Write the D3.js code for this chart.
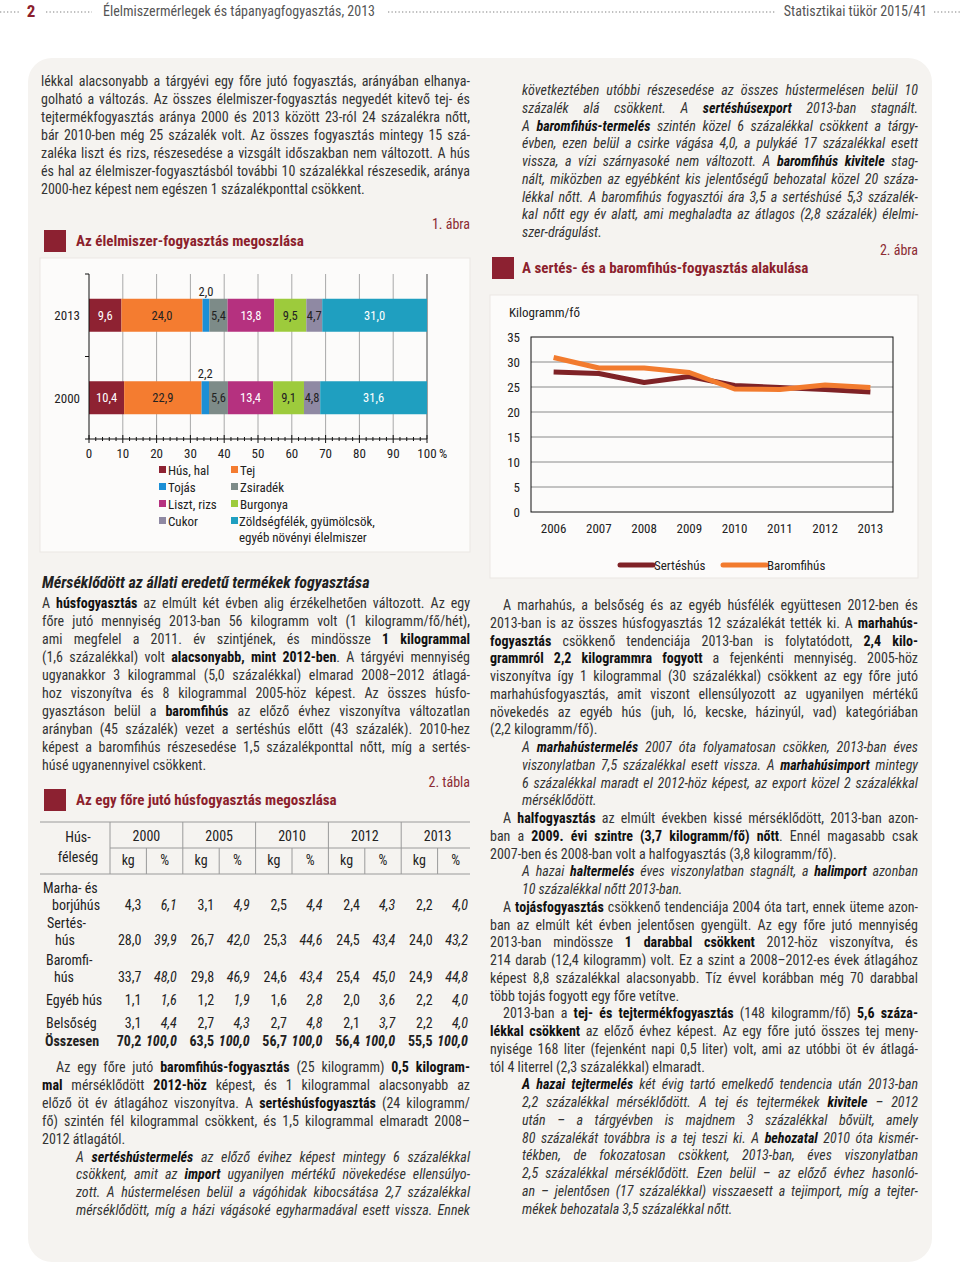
<!DOCTYPE html>
<html><head><meta charset="utf-8">
<script src="https://cdn.jsdelivr.net/npm/d3@7"></script>
<style>html,body{margin:0;padding:0;background:#fff;} svg{display:block}</style>
</head><body><svg id="page" width="960" height="1286"></svg>
<script>
// ---------- DATA ----------
const foodCategories = ["Hús, hal","Tej","Tojás","Zsiradék","Liszt, rizs","Burgonya","Cukor","Zöldségfélék, gyümölcsök, egyéb növényi élelmiszer"];
const foodYears = ["2013","2000"];
const share2013 = [9.6,24.0,2.0,5.4,13.8,9.5,4.7,31.0];
const share2000 = [10.4,22.9,2.2,5.6,13.4,9.1,4.8,31.6];
const shareTicks = [0,10,20,30,40,50,60,70,80,90,100];

const meatYears = ["2006","2007","2008","2009","2010","2011","2012","2013"];
const meatSeries = ["Sertéshús","Baromfihús"];
const porkKg = [28.0,27.7,25.9,27.1,25.3,24.9,24.5,24.0];
const poultryKg = [30.9,28.8,28.8,27.9,24.6,24.5,25.4,24.9];
const meatTicks = [0,5,10,15,20,25,30,35];

const tableYears = ["2000","2005","2010","2012","2013"];
const tableUnits = ["kg","%"];
const tableRowLabels = [["Marha- és","borjúhús"],["Sertés-","hús"],["Baromfi-","hús"],["Egyéb hús"],["Belsőség"],["Összesen"]];
const tableKg = [
  [4.3,3.1,2.5,2.4,2.2],
  [28.0,26.7,25.3,24.5,24.0],
  [33.7,29.8,24.6,25.4,24.9],
  [1.1,1.2,1.6,2.0,2.2],
  [3.1,2.7,2.7,2.1,2.2],
  [70.2,63.5,56.7,56.4,55.5]];
const tablePct = [
  [6.1,4.9,4.4,4.3,4.0],
  [39.9,42.0,44.6,43.4,43.2],
  [48.0,46.9,43.4,45.0,44.8],
  [1.6,1.9,2.8,3.6,4.0],
  [4.4,4.3,4.8,3.7,4.0],
  [100.0,100.0,100.0,100.0,100.0]];

// ---------- STYLE ----------
const F = "'Liberation Sans Narrow','Arial Narrow','Roboto Condensed','Liberation Sans',sans-serif";
const RED = "#8c1f2d";
const TXT = "#333";
const foodColors = ["#8e2232","#f47c30","#1b8fd6","#7d8b88","#b5317f","#9dcb3c","#8f89a3","#1f9fc0"];
const foodLabelColors = ["#fff","#222","#222","#222","#fff","#222","#222","#fff"];
const meatColors = ["#7f2226","#f27b2e"];
const fmt = v => d3.format(".1f")(v).replace(".", ",");

const svg = d3.select("#page");

// panel
svg.append("rect").attr("x",28).attr("y",58).attr("width",904).attr("height",1204).attr("rx",24).attr("fill","#f5f3f0");

// ---------- HEADER ----------
const hdr = svg.append("g").attr("font-family",F);
function dots(x1,x2,y){ hdr.append("line").attr("x1",x1).attr("x2",x2).attr("y1",y).attr("y2",y).attr("stroke","#aaa").attr("stroke-width",1.3).attr("stroke-dasharray","1.3,2.2"); }
dots(0,20,12); dots(46,92,12); dots(388,776,12); dots(934,960,12);
hdr.append("text").attr("x",31).attr("y",17).attr("text-anchor","middle").attr("font-size",17).attr("font-weight","bold").attr("fill",RED).text("2");
hdr.append("text").attr("x",103).attr("y",16).attr("font-size",14).attr("fill","#555").text("Élelmiszermérlegek és tápanyagfogyasztás, 2013");
hdr.append("text").attr("x",927).attr("y",16).attr("text-anchor","end").attr("font-size",14).attr("fill","#555").text("Statisztikai tükör 2015/41");

// ---------- TEXT HELPERS ----------
function drawLine(g, str, x, x1, y, italic, justify){
  const t = g.append("text").attr("x",x).attr("y",y).attr("font-family",F).attr("font-size",14)
    .attr("fill",TXT).attr("font-style", italic?"italic":"normal");
  str.split("**").forEach((s,k)=>{ if(!s) return; const ts=t.append("tspan").text(s); if(k%2===1) ts.attr("font-weight","bold").attr("fill","#111"); });
  if(justify){
    const nat = t.node().getComputedTextLength();
    const spaces = (str.replace(/\*\*/g,"").trim().match(/ +/g)||[]).length;
    if(spaces>0){
      t.style("word-spacing", ((x1-x-nat)/spaces)+"px");
      const after = t.node().getComputedTextLength();
      if(Math.abs(after-(x1-x))>2){ t.style("word-spacing",null).attr("textLength",x1-x).attr("lengthAdjust","spacing"); }
    }
  }
}
function renderBlock(spec){
  const g = svg.append("g");
  let y = spec.y;
  spec.paras.forEach(p=>{
    const xs = p.it ? spec.xi : spec.x0;
    p.lines.forEach((ln,i)=>{
      const isLast = (i===p.lines.length-1) && !p.open;
      const ind = (i===0 && p.indent) ? spec.ind : 0;
      drawLine(g, ln, xs+ind, spec.x1, y+5, p.it, !isLast);
      y += spec.dy;
    });
  });
}
function heading(x,y,text,sqx,sqy){
  svg.append("rect").attr("x",sqx).attr("y",sqy).attr("width",22).attr("height",22).attr("fill","#8c2131");
  svg.append("text").attr("x",x).attr("y",y+5).attr("font-family",F).attr("font-size",15).attr("font-weight","bold").attr("fill",RED).text(text);
}
function figNo(x,y,text){
  svg.append("text").attr("x",x).attr("y",y+5).attr("text-anchor","end").attr("font-family",F).attr("font-size",14).attr("fill","#8c2b33").text(text);
}

// ---------- LEFT COLUMN TEXT ----------
renderBlock({x0:41,xi:76,x1:470,y:81,dy:18,ind:14,paras:[{it:false,lines:[
 "lékkal alacsonyabb a tárgyévi egy főre jutó fogyasztás, arányában elhanya-",
 "golható a változás. Az összes élelmiszer-fogyasztás negyedét kitevő tej- és",
 "tejtermékfogyasztás aránya 2000 és 2013 között 23-ról 24 százalékra nőtt,",
 "bár 2010-ben még 25 százalék volt. Az összes fogyasztás mintegy 15 szá-",
 "zaléka liszt és rizs, részesedése a vizsgált időszakban nem változott. A hús",
 "és hal az élelmiszer-fogyasztásból további 10 százalékkal részesedik, aránya",
 "2000-hez képest nem egészen 1 százalékponttal csökkent."]}]});
figNo(470,224,"1. ábra");
heading(76,241,"Az élelmiszer-fogyasztás megoszlása",44,230);

svg.append("text").attr("x",42).attr("y",588).attr("font-family",F).attr("font-size",16).attr("font-weight","bold").attr("font-style","italic").attr("fill","#222").text("Mérséklődött az állati eredetű termékek fogyasztása");
renderBlock({x0:42,xi:76,x1:470,y:603,dy:17.95,ind:14,paras:[{it:false,lines:[
 "A **húsfogyasztás** az elmúlt két évben alig érzékelhetően változott. Az egy",
 "főre jutó mennyiség 2013-ban 56 kilogramm volt (1 kilogramm/fő/hét),",
 "ami megfelel a 2011. év szintjének, és mindössze **1 kilogrammal**",
 "(1,6 százalékkal) volt **alacsonyabb, mint 2012-ben**. A tárgyévi mennyiség",
 "ugyanakkor 3 kilogrammal (5,0 százalékkal) elmarad 2008–2012 átlagá-",
 "hoz viszonyítva és 8 kilogrammal 2005-höz képest. Az összes húsfo-",
 "gyasztáson belül a **baromfihús** az előző évhez viszonyítva változatlan",
 "arányban (45 százalék) vezet a sertéshús előtt (43 százalék). 2010-hez",
 "képest a baromfihús részesedése 1,5 százalékponttal nőtt, míg a sertés-",
 "húsé ugyanennyivel csökkent."]}]});
figNo(470,782,"2. tábla");
heading(76,800,"Az egy főre jutó húsfogyasztás megoszlása",44,789);

renderBlock({x0:42,xi:76,x1:470,y:1067,dy:17.9,ind:14,paras:[
 {it:false,indent:true,lines:[
 "Az egy főre jutó **baromfihús-fogyasztás** (25 kilogramm) **0,5 kilogram-**",
 "**mal** mérséklődött **2012-höz** képest, és 1 kilogrammal alacsonyabb az",
 "előző öt év átlagához viszonyítva. A **sertéshúsfogyasztás** (24 kilogramm/",
 "fő) szintén fél kilogrammal csökkent, és 1,5 kilogrammal elmaradt 2008–",
 "2012 átlagától."]},
 {it:true,open:true,lines:[
 "A **sertéshústermelés** az előző évihez képest mintegy 6 százalékkal",
 "csökkent, amit az **import** ugyanilyen mértékű növekedése ellensúlyo-",
 "zott. A hústermelésen belül a vágóhidak kibocsátása 2,7 százalékkal",
 "mérséklődött, míg a házi vágásoké egyharmadával esett vissza. Ennek"]}]});

// ---------- RIGHT COLUMN TEXT ----------
renderBlock({x0:490,xi:522,x1:918,y:90,dy:17.75,ind:13,paras:[{it:true,lines:[
 "következtében utóbbi részesedése az összes hústermelésen belül 10",
 "százalék alá csökkent. A **sertéshúsexport** 2013-ban stagnált.",
 "A **baromfihús-termelés** szintén közel 6 százalékkal csökkent a tárgy-",
 "évben, ezen belül a csirke vágása 4,0, a pulykáé 17 százalékkal esett",
 "vissza, a vízi szárnyasoké nem változott. A **baromfihús kivitele** stag-",
 "nált, miközben az egyébként kis jelentőségű behozatal közel 20 száza-",
 "lékkal nőtt. A baromfihús fogyasztói ára 3,5 a sertéshúsé 5,3 százalék-",
 "kal nőtt egy év alatt, ami meghaladta az átlagos (2,8 százalék) élelmi-",
 "szer-drágulást."]}]});
figNo(918,250,"2. ábra");
heading(522,268,"A sertés- és a baromfihús-fogyasztás alakulása",492,257);

renderBlock({x0:490,xi:522,x1:918,y:605,dy:17.75,ind:13,paras:[
 {it:false,indent:true,lines:[
 "A marhahús, a belsőség és az egyéb húsfélék együttesen 2012-ben és",
 "2013-ban is az összes húsfogyasztás 12 százalékát tették ki. A **marhahús-**",
 "**fogyasztás** csökkenő tendenciája 2013-ban is folytatódott, **2,4 kilo-**",
 "**grammról 2,2 kilogrammra fogyott** a fejenkénti mennyiség.  2005-höz",
 "viszonyítva így 1 kilogrammal (30 százalékkal) csökkent az egy főre jutó",
 "marhahúsfogyasztás, amit viszont ellensúlyozott az ugyanilyen mértékű",
 "növekedés az egyéb hús (juh, ló, kecske, házinyúl, vad) kategóriában",
 "(2,2 kilogramm/fő)."]},
 {it:true,lines:[
 "A **marhahústermelés** 2007 óta folyamatosan csökken, 2013-ban éves",
 "viszonylatban 7,5 százalékkal esett vissza. A **marhahúsimport** mintegy",
 "6 százalékkal maradt el 2012-höz képest, az export közel 2 százalékkal",
 "mérséklődött."]},
 {it:false,indent:true,lines:[
 "A **halfogyasztás** az elmúlt években kissé mérséklődött, 2013-ban azon-",
 "ban a **2009. évi szintre (3,7 kilogramm/fő) nőtt**. Ennél magasabb csak",
 "2007-ben és 2008-ban volt a halfogyasztás (3,8 kilogramm/fő)."]},
 {it:true,lines:[
 "A hazai **haltermelés** éves viszonylatban stagnált, a **halimport** azonban",
 "10 százalékkal nőtt 2013-ban."]},
 {it:false,indent:true,lines:[
 "A **tojásfogyasztás** csökkenő tendenciája 2004 óta tart, ennek üteme azon-",
 "ban az elmúlt két évben jelentősen gyengült.  Az egy főre jutó mennyiség",
 "2013-ban mindössze **1 darabbal csökkent** 2012-höz viszonyítva, és",
 "214 darab (12,4 kilogramm) volt. Ez a szint a 2008–2012-es évek átlagához",
 "képest 8,8 százalékkal alacsonyabb. Tíz évvel korábban még 70 darabbal",
 "több tojás fogyott egy főre vetítve."]},
 {it:false,indent:true,lines:[
 "2013-ban a **tej- és tejtermékfogyasztás** (148 kilogramm/fő) **5,6 száza-**",
 "**lékkal csökkent** az előző évhez képest. Az egy főre jutó összes tej meny-",
 "nyisége 168 liter (fejenként napi 0,5 liter) volt, ami az utóbbi öt év átlagá-",
 "tól 4 literrel (2,3 százalékkal) elmaradt."]},
 {it:true,lines:[
 "**A hazai tejtermelés** két évig tartó emelkedő tendencia után 2013-ban",
 "2,2 százalékkal mérséklődött. A tej és tejtermékek **kivitele** – 2012",
 "után – a tárgyévben is majdnem 3 százalékkal bővült, amely",
 "80 százalékát továbbra is a tej teszi ki. A **behozatal** 2010 óta kismér-",
 "tékben, de fokozatosan csökkent, 2013-ban, éves viszonylatban",
 "2,5 százalékkal mérséklődött. Ezen belül – az előző évhez hasonló-",
 "an – jelentősen (17 százalékkal) visszaesett a tejimport, míg a tejter-",
 "mékek behozatala 3,5 százalékkal nőtt."]}]});

// ---------- CHART 1: stacked bars ----------
const c1 = svg.append("g").attr("font-family",F);
c1.append("rect").attr("x",40).attr("y",258).attr("width",430).attr("height",294).attr("fill","#fcfbfa").attr("stroke","#ebe7e3");
const x1 = d3.scaleLinear().domain([0,100]).range([89,427]);
const y1 = d3.scaleBand().domain(foodYears).range([274,439]).paddingInner(0.6).paddingOuter(0.3);
// grid
c1.selectAll("line.grid").data(shareTicks.slice(1)).join("line")
  .attr("x1",d=>x1(d)).attr("x2",d=>x1(d)).attr("y1",274).attr("y2",439)
  .attr("stroke",d=>d===100?"#444":"#a8a8a8").attr("stroke-width",1);
const rows1 = foodYears.map(yr=>{ const vals = yr==="2013"?share2013:share2000; const o={year:yr}; foodCategories.forEach((c,i)=>o[c]=vals[i]); return o; });
const stack1 = d3.stack().keys(foodCategories)(rows1);
stack1.forEach((layer,li)=>{
  const g = c1.append("g");
  g.selectAll("rect").data(layer).join("rect")
    .attr("x",d=>x1(d[0])).attr("width",d=>x1(d[1])-x1(d[0]))
    .attr("y",d=>y1(d.data.year)).attr("height",y1.bandwidth()).attr("fill",foodColors[li]);
  g.selectAll("text").data(layer).join("text")
    .attr("x",d=>(x1(d[0])+x1(d[1]))/2)
    .attr("y",d=> li===2 ? y1(d.data.year)-3 : y1(d.data.year)+y1.bandwidth()/2+4.5)
    .attr("text-anchor","middle").attr("font-size",12.5)
    .attr("fill",foodLabelColors[li])
    .text(d=>fmt(d[1]-d[0]));
});
// axes
c1.append("line").attr("x1",89).attr("x2",89).attr("y1",274).attr("y2",439).attr("stroke","#111");
c1.append("line").attr("x1",89).attr("x2",427).attr("y1",439).attr("y2",439).attr("stroke","#111");
const bTicks = [y1.range()[0], (y1.range()[0]+y1.range()[1])/2, y1.range()[1]];
c1.selectAll("line.yt").data(bTicks).join("line").attr("x1",85).attr("x2",89).attr("y1",d=>d).attr("y2",d=>d).attr("stroke","#111");
c1.selectAll("text.yl").data(foodYears).join("text").attr("x",80).attr("y",d=>y1(d)+y1.bandwidth()/2+5)
  .attr("text-anchor","end").attr("font-size",13).attr("fill","#222").text(d=>d);
c1.selectAll("line.mn").data(d3.range(0,101,2)).join("line")
  .attr("x1",d=>x1(d)).attr("x2",d=>x1(d)).attr("y1",d=>d%10===0?435:437).attr("y2",d=>d%10===0?443:441).attr("stroke","#111");
c1.selectAll("text.xl").data(shareTicks).join("text").attr("x",d=>x1(d)).attr("y",458)
  .attr("text-anchor","middle").attr("font-size",13).attr("fill","#222").text(d=>d);
c1.append("text").attr("x",x1(100)+12).attr("y",458).attr("font-size",13).attr("fill","#222").text("%");
// legend
const legOrder = [[0,1],[2,3],[4,5],[6,7]];
legOrder.forEach((pair,r)=>{
  pair.forEach((ci,c)=>{
    const lx = c===0?159:231, ly = 470+r*17;
    c1.append("rect").attr("x",lx).attr("y",ly-4).attr("width",7).attr("height",7).attr("fill",foodColors[ci]);
    const name = foodCategories[ci];
    if(ci===7){
      c1.append("text").attr("x",lx+8).attr("y",ly+4.5).attr("font-size",13).attr("fill","#222").text("Zöldségfélék, gyümölcsök,");
      c1.append("text").attr("x",lx+8).attr("y",ly+21).attr("font-size",13).attr("fill","#222").text("egyéb növényi élelmiszer");
    } else {
      c1.append("text").attr("x",lx+9).attr("y",ly+4.5).attr("font-size",13).attr("fill","#222").text(name);
    }
  });
});

// ---------- CHART 2: lines ----------
const c2 = svg.append("g").attr("font-family",F);
c2.append("rect").attr("x",490).attr("y",295).attr("width",428).attr("height",283).attr("fill","#fcfbfa").attr("stroke","#ebe7e3");
const x2 = d3.scalePoint().domain(meatYears).range([531,893]).padding(0.5);
const y2 = d3.scaleLinear().domain([0,35]).range([512,337]);
c2.selectAll("line.g").data(meatTicks.slice(1,-1)).join("line")
  .attr("x1",531).attr("x2",893).attr("y1",d=>y2(d)).attr("y2",d=>y2(d)).attr("stroke","#8a8a8a");
c2.append("rect").attr("x",531).attr("y",y2(35)).attr("width",362).attr("height",y2(0)-y2(35)).attr("fill","none").attr("stroke","#111");
c2.selectAll("text.yl").data(meatTicks).join("text").attr("x",520).attr("y",d=>y2(d)+5)
  .attr("text-anchor","end").attr("font-size",13).attr("fill","#222").text(d=>d);
c2.selectAll("text.xl").data(meatYears).join("text").attr("x",d=>x2(d)).attr("y",533)
  .attr("text-anchor","middle").attr("font-size",13).attr("fill","#222").text(d=>d);
c2.append("text").attr("x",509).attr("y",317).attr("font-size",13).attr("fill","#222").text("Kilogramm/fő");
const line2 = d3.line().x((d,i)=>x2(meatYears[i])).y(d=>y2(d));
[porkKg,poultryKg].forEach((s,i)=>{
  c2.append("path").attr("d",line2(s)).attr("fill","none").attr("stroke",meatColors[i]).attr("stroke-width",5).attr("stroke-linejoin","round");
});
const legX = [620,723];
meatSeries.forEach((n,i)=>{
  c2.append("line").attr("x1",legX[i]).attr("x2",legX[i]+(i===0?33:43)).attr("y1",565).attr("y2",565).attr("stroke",meatColors[i]).attr("stroke-width",5).attr("stroke-linecap","round");
  c2.append("text").attr("x",legX[i]+(i===0?34:44)).attr("y",569.5).attr("font-size",13).attr("fill","#222").text(n);
});

// ---------- TABLE ----------
const tb = svg.append("g").attr("font-family",F).attr("font-size",14).attr("fill","#222");
const colX = d3.scaleBand().domain(d3.range(10)).range([110,474]);
const LN = "#9a9a9a";
tb.append("line").attr("x1",40).attr("x2",470).attr("y1",822).attr("y2",822).attr("stroke",LN);
tb.append("line").attr("x1",110).attr("x2",470).attr("y1",848).attr("y2",848).attr("stroke",LN);
tb.append("line").attr("x1",40).attr("x2",470).attr("y1",874).attr("y2",874).attr("stroke",LN);
tableYears.forEach((yr,i)=>{
  const xa = colX(i*2);
  tb.append("line").attr("x1",xa).attr("x2",xa).attr("y1",822).attr("y2",874).attr("stroke",LN);
  const xm = colX(i*2+1);
  tb.append("line").attr("x1",xm).attr("x2",xm).attr("y1",848).attr("y2",874).attr("stroke",LN);
  tb.append("text").attr("x",xm).attr("y",841).attr("text-anchor","middle").text(yr);
  tableUnits.forEach((u,k)=>{
    tb.append("text").attr("x",colX(i*2+k)+colX.bandwidth()/2).attr("y",865).attr("text-anchor","middle").text(u);
  });
});
tb.append("text").attr("x",78).attr("y",842).attr("text-anchor","middle").text("Hús-");
tb.append("text").attr("x",78).attr("y",862).attr("text-anchor","middle").text("féleség");
const rowY = [905,940,977,1000,1023,1041];
const labX1 = [43,47,46,46,46,45];
tableRowLabels.forEach((lab,r)=>{
  const bold = r===tableRowLabels.length-1;
  if(lab.length===2){
    tb.append("text").attr("x",labX1[r]).attr("y",rowY[r]-17+5).text(lab[0]);
    tb.append("text").attr("x",labX1[r]+(r===0?9:8)).attr("y",rowY[r]+5).text(lab[1]);
  } else {
    tb.append("text").attr("x",labX1[r]).attr("y",rowY[r]+5).attr("font-weight",bold?"bold":null).text(lab[0]);
  }
  tableYears.forEach((yr,i)=>{
    tb.append("text").attr("x",colX(i*2)+colX.bandwidth()-5).attr("y",rowY[r]+5).attr("text-anchor","end")
      .attr("font-weight",bold?"bold":null).text(fmt(tableKg[r][i]));
    tb.append("text").attr("x",colX(i*2+1)+colX.bandwidth()-6).attr("y",rowY[r]+5).attr("text-anchor","end")
      .attr("font-style","italic").attr("font-weight",bold?"bold":null).text(fmt(tablePct[r][i]));
  });
});
</script>
</body></html>
